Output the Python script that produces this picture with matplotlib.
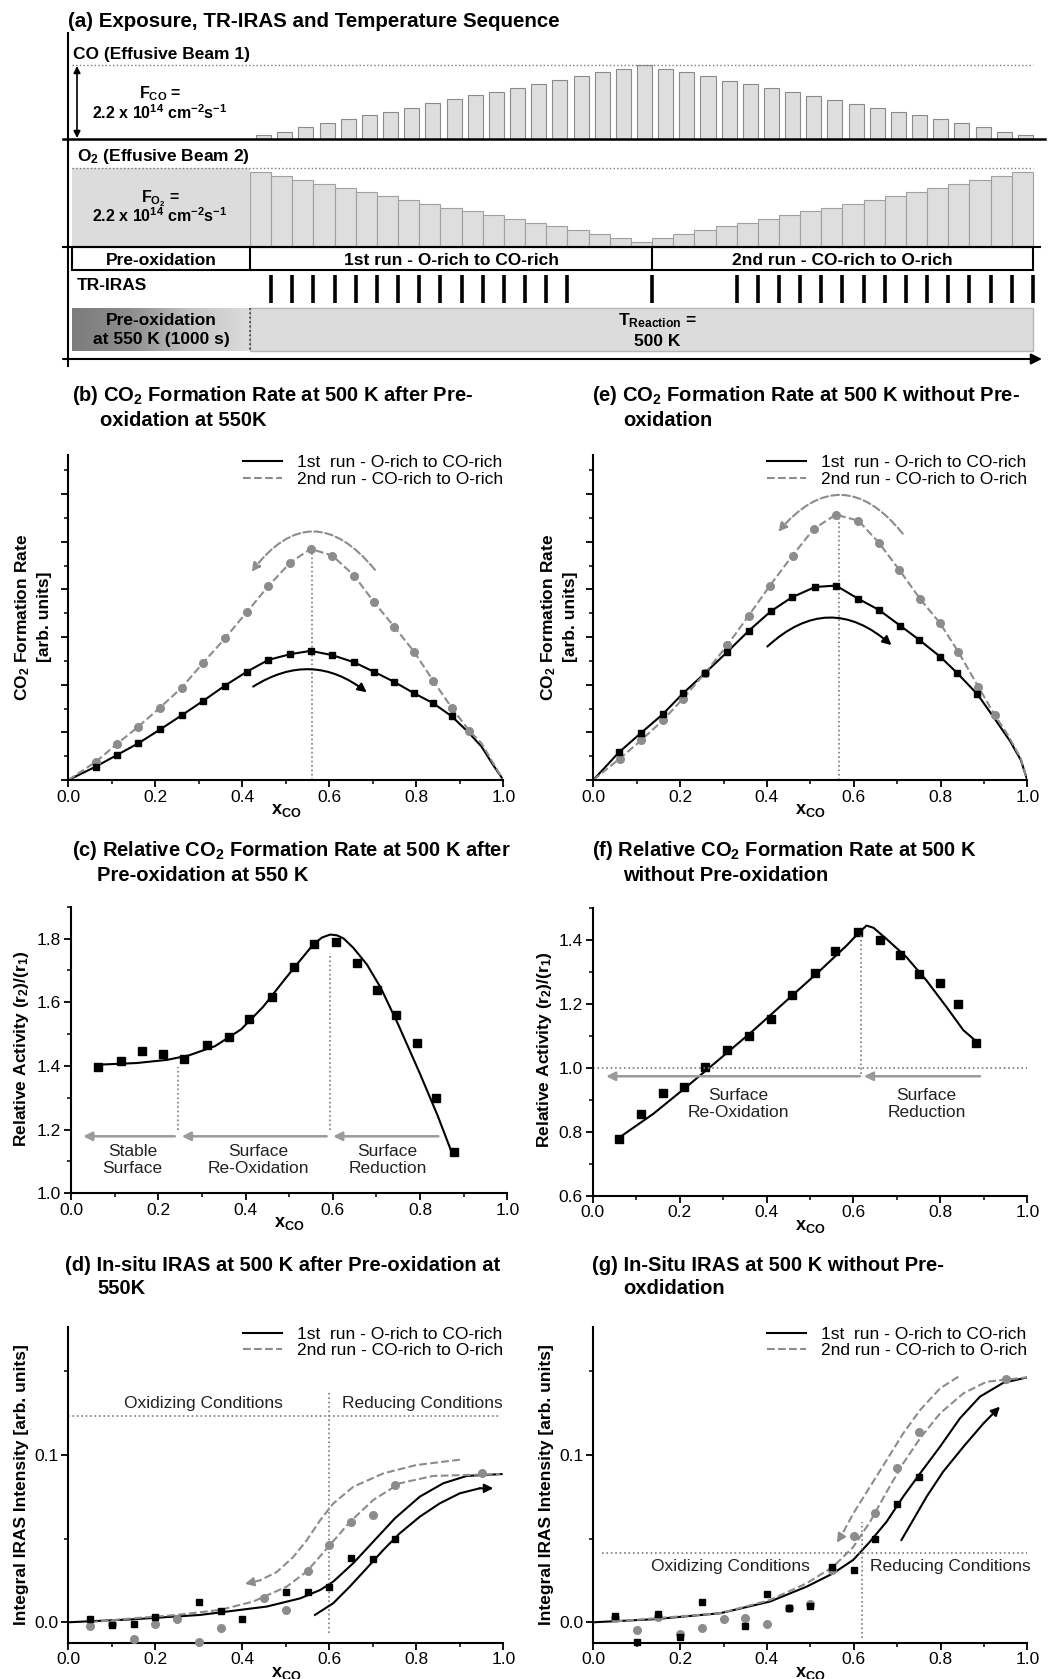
import numpy as np
import matplotlib
matplotlib.use("Agg")
import matplotlib.pyplot as plt
from matplotlib.patches import Rectangle
from matplotlib.colors import LinearSegmentedColormap
from matplotlib.ticker import MultipleLocator, FixedLocator, FormatStrFormatter, NullFormatter

plt.rcParams["font.family"] = ["Liberation Sans", "DejaVu Sans"]
plt.rcParams["mathtext.default"] = "regular"
plt.rcParams["font.size"] = 12.5

# ---------------- (a) exposure sequence: flux as fraction of 2.2e14 cm-2 s-1
co_run1 = [0.05, 0.10, 0.16, 0.21, 0.27, 0.32, 0.37, 0.42, 0.48, 0.54, 0.59, 0.64, 0.69, 0.74, 0.80, 0.85, 0.91, 0.95, 1.00]
co_run2 = [0.95, 0.91, 0.85, 0.79, 0.74, 0.69, 0.64, 0.58, 0.53, 0.47, 0.42, 0.36, 0.32, 0.27, 0.21, 0.16, 0.10, 0.05]
o2_run1 = [0.95, 0.90, 0.85, 0.80, 0.75, 0.70, 0.65, 0.60, 0.55, 0.50, 0.45, 0.40, 0.35, 0.31, 0.26, 0.21, 0.16, 0.11, 0.06]
o2_run2 = [0.11, 0.16, 0.21, 0.26, 0.31, 0.35, 0.40, 0.45, 0.50, 0.55, 0.60, 0.65, 0.70, 0.75, 0.80, 0.85, 0.90, 0.95]
o2_preox = 1.0
iras_slots = list(range(1, 16)) + [19] + list(range(23, 38))

# ---------------- (b) CO2 rate after pre-oxidation (arb. units)
b_x1 = [0.063, 0.111, 0.161, 0.211, 0.261, 0.310, 0.360, 0.410, 0.460, 0.510, 0.557, 0.607, 0.657, 0.703, 0.749, 0.795, 0.839, 0.881]
b_run1 = [0.28, 0.52, 0.77, 1.06, 1.36, 1.66, 1.98, 2.27, 2.52, 2.64, 2.71, 2.62, 2.47, 2.27, 2.06, 1.82, 1.61, 1.34]
b_x2 = [0.063, 0.111, 0.161, 0.211, 0.261, 0.310, 0.360, 0.410, 0.460, 0.510, 0.557, 0.607, 0.657, 0.703, 0.749, 0.795, 0.839, 0.881, 0.922]
b_run2 = [0.38, 0.75, 1.12, 1.52, 1.94, 2.46, 2.97, 3.52, 4.07, 4.56, 4.85, 4.71, 4.29, 3.73, 3.22, 2.69, 2.08, 1.52, 1.03]
b_fit1_x = [0.0] + b_x1 + [0.92, 0.95, 0.977, 1.0]
b_fit1_y = [0.0] + b_run1 + [1.00, 0.70, 0.31, 0.0]
b_fit2_x = [0.0] + b_x2 + [0.95, 0.977, 1.0]
b_fit2_y = [0.0] + b_run2 + [0.77, 0.35, 0.0]

# ---------------- (e) CO2 rate without pre-oxidation
e_x1 = [0.059, 0.109, 0.160, 0.207, 0.257, 0.309, 0.358, 0.409, 0.457, 0.511, 0.559, 0.611, 0.658, 0.707, 0.751, 0.799, 0.839, 0.885]
e_run1 = [0.58, 0.98, 1.38, 1.82, 2.24, 2.69, 3.13, 3.54, 3.83, 4.05, 4.08, 3.80, 3.57, 3.24, 2.94, 2.59, 2.24, 1.80]
e_x2 = [0.061, 0.111, 0.161, 0.207, 0.257, 0.309, 0.358, 0.407, 0.459, 0.508, 0.559, 0.611, 0.658, 0.705, 0.753, 0.799, 0.841, 0.887, 0.925]
e_run2 = [0.45, 0.84, 1.26, 1.71, 2.24, 2.83, 3.45, 4.08, 4.71, 5.27, 5.57, 5.44, 4.98, 4.41, 3.80, 3.29, 2.69, 1.96, 1.36]
e_fit1_x = [0.0] + e_x1 + [0.92, 0.96, 0.985, 1.0]
e_fit1_y = [0.0] + e_run1 + [1.35, 0.82, 0.42, 0.0]
e_fit2_x = [0.0] + e_x2 + [0.955, 0.985, 1.0]
e_fit2_y = [0.0] + e_run2 + [0.95, 0.45, 0.0]

# ---------------- (c) relative activity after pre-oxidation
c_x = [0.063, 0.114, 0.162, 0.212, 0.260, 0.311, 0.361, 0.409, 0.460, 0.510, 0.557, 0.607, 0.656, 0.702, 0.746, 0.792, 0.836, 0.878]
c_ratio = [1.396, 1.417, 1.446, 1.438, 1.421, 1.467, 1.490, 1.547, 1.617, 1.711, 1.783, 1.790, 1.724, 1.638, 1.559, 1.472, 1.299, 1.130]
c_fit_x = [0.063, 0.15, 0.22, 0.27, 0.33, 0.39, 0.44, 0.49, 0.525, 0.555, 0.575, 0.594, 0.61, 0.625, 0.647, 0.678, 0.71, 0.75, 0.80, 0.84, 0.875]
c_fit_y = [1.404, 1.409, 1.419, 1.433, 1.462, 1.515, 1.585, 1.672, 1.731, 1.781, 1.803, 1.8125, 1.810, 1.800, 1.771, 1.719, 1.645, 1.530, 1.375, 1.245, 1.120]

# ---------------- (f) relative activity without pre-oxidation
f_x = [0.061, 0.112, 0.161, 0.209, 0.259, 0.310, 0.359, 0.410, 0.458, 0.511, 0.558, 0.610, 0.660, 0.707, 0.751, 0.799, 0.840, 0.883]
f_ratio = [0.779, 0.855, 0.922, 0.941, 1.003, 1.055, 1.099, 1.152, 1.230, 1.297, 1.365, 1.425, 1.401, 1.353, 1.295, 1.266, 1.199, 1.078]
f_fit_x = [0.061, 0.14, 0.216, 0.293, 0.37, 0.446, 0.523, 0.584, 0.61, 0.63, 0.646, 0.676, 0.722, 0.768, 0.814, 0.853, 0.882]
f_fit_y = [0.782, 0.857, 0.941, 1.029, 1.118, 1.211, 1.305, 1.383, 1.420, 1.446, 1.439, 1.404, 1.347, 1.274, 1.191, 1.118, 1.084]

# ---------------- (d) IRAS intensity after pre-oxidation
d_x1 = [0.05, 0.10, 0.15, 0.20, 0.30, 0.35, 0.40, 0.50, 0.55, 0.60, 0.65, 0.70, 0.75]
d_run1 = [0.0018, -0.0016, -0.0010, 0.0030, 0.0124, 0.0068, 0.0018, 0.0179, 0.0179, 0.0209, 0.0382, 0.0376, 0.0498]
d_x2 = [0.05, 0.10, 0.15, 0.20, 0.25, 0.30, 0.35, 0.45, 0.50, 0.55, 0.60, 0.65, 0.70, 0.75, 0.95]
d_run2 = [-0.0020, -0.0010, -0.0100, -0.0010, 0.0020, -0.0120, -0.0036, 0.0143, 0.0074, 0.0307, 0.0462, 0.0602, 0.0641, 0.0821, 0.0890]
d_fit1_x = [0.0, 0.149, 0.303, 0.456, 0.533, 0.579, 0.609, 0.655, 0.701, 0.751, 0.808, 0.862, 0.916, 0.996]
d_fit1_y = [0.0, 0.0018, 0.0044, 0.0094, 0.0143, 0.0193, 0.0243, 0.0353, 0.0482, 0.0622, 0.0751, 0.0831, 0.0875, 0.0886]
d_fit2_x = [0.05, 0.149, 0.249, 0.349, 0.425, 0.502, 0.548, 0.6015, 0.648, 0.701, 0.762, 0.839, 0.992]
d_fit2_y = [0.0, 0.0024, 0.0044, 0.0074, 0.0124, 0.0213, 0.0303, 0.0462, 0.0602, 0.0731, 0.0831, 0.0875, 0.0886]
d_arr2_x = [0.900, 0.80, 0.724, 0.655, 0.609, 0.579, 0.548, 0.517, 0.479, 0.44, 0.406]
d_arr2_y = [0.0972, 0.094, 0.089, 0.081, 0.071, 0.061, 0.049, 0.039, 0.030, 0.025, 0.023]
d_arr1_x = [0.567, 0.609, 0.647, 0.686, 0.724, 0.762, 0.808, 0.854, 0.900, 0.946, 0.977]
d_arr1_y = [0.0044, 0.0114, 0.0213, 0.0323, 0.0432, 0.0532, 0.0631, 0.0711, 0.0771, 0.0801, 0.0801]

# ---------------- (g) IRAS intensity without pre-oxidation
g_x1 = [0.05, 0.10, 0.15, 0.20, 0.25, 0.35, 0.40, 0.45, 0.50, 0.55, 0.60, 0.65, 0.70, 0.75]
g_run1 = [0.0038, -0.0120, 0.0048, -0.0086, 0.0124, -0.0020, 0.0167, 0.0084, 0.0100, 0.0329, 0.0313, 0.0496, 0.0705, 0.0867]
g_x2 = [0.05, 0.10, 0.15, 0.20, 0.25, 0.30, 0.35, 0.40, 0.45, 0.50, 0.55, 0.60, 0.65, 0.70, 0.75, 0.95]
g_run2 = [0.0024, -0.0046, 0.0030, -0.0072, -0.0036, 0.0020, 0.0024, -0.0012, 0.0088, 0.0108, 0.0313, 0.0518, 0.0655, 0.0920, 0.1135, 0.1452]
g_fit1_x = [0.0, 0.138, 0.292, 0.407, 0.4915, 0.553, 0.599, 0.6375, 0.676, 0.714, 0.753, 0.799, 0.845, 0.891, 0.945, 1.0]
g_fit1_y = [0.0, 0.0018, 0.0054, 0.0124, 0.0213, 0.0293, 0.0373, 0.0482, 0.0602, 0.0751, 0.0890, 0.1050, 0.1220, 0.1349, 0.1432, 0.1464]
g_fit2_x = [0.05, 0.292, 0.407, 0.4915, 0.553, 0.599, 0.6375, 0.676, 0.714, 0.753, 0.799, 0.853, 0.906, 1.0]
g_fit2_y = [0.0005, 0.0054, 0.0133, 0.0233, 0.0333, 0.0450, 0.0600, 0.0780, 0.0950, 0.1100, 0.1249, 0.1369, 0.1438, 0.1464]
g_arr2_x = [0.841, 0.799, 0.753, 0.714, 0.676, 0.6375, 0.599, 0.572, 0.561]
g_arr2_y = [0.1468, 0.1398, 0.1269, 0.1129, 0.0970, 0.0810, 0.0650, 0.0520, 0.0476]
g_arr1_x = [0.710, 0.737, 0.768, 0.806, 0.853, 0.899, 0.937]
g_arr1_y = [0.0492, 0.0612, 0.0751, 0.0900, 0.1050, 0.1189, 0.1289]

LAB1 = "1st  run - O-rich to CO-rich"
LAB2 = "2nd run - CO-rich to O-rich"
GRAY = "#8c8c8c"
DOT = "#7a7a7a"
FS = 12.5

W, H = 1051, 1679
fig = plt.figure(figsize=(W / 100, H / 100), dpi=100)


def px_axes(l, t, r, b):
    return fig.add_axes([l / W, 1 - b / H, (r - l) / W, (b - t) / H])


def ftext(x, y, s, **kw):
    fig.text(x / W, 1 - y / H, s, **kw)


# ======================= panel (a) in pixel-like coordinates
ax = fig.add_axes([0, 1 - 372 / H, 1, 372 / H])
X0, SLOT = 250, 21.16
CO_BASE, CO_FULL = 139, 74
O2_BASE, O2_FULL = 247, 79
co = np.array(co_run1 + co_run2)
o2 = np.array(o2_run1 + o2_run2)
left = X0 + np.arange(len(co)) * SLOT
X_END = X0 + len(co) * SLOT
X_RUN = X0 + len(co_run1) * SLOT

ax.bar(left + 0.29 * SLOT, -CO_FULL * co, width=0.71 * SLOT, bottom=CO_BASE, align="edge",
       color="#dedede", edgecolor="#8a8a8a", lw=0.8)
ax.bar(left, -O2_FULL * o2, width=SLOT, bottom=O2_BASE, align="edge",
       color="#dedede", edgecolor="#a0a0a0", lw=0.8)
ax.bar(72, -O2_FULL * o2_preox, width=X0 - 72, bottom=O2_BASE, align="edge",
       color="#dcdcdc", edgecolor="none")
ax.plot([72, X_END], [CO_BASE - CO_FULL] * 2, ls=":", color=DOT, lw=1)
ax.plot([72, X_END], [O2_BASE - O2_FULL] * 2, ls=":", color=DOT, lw=1)

# frame lines
ax.plot([68, 68], [33, 366], color="k", lw=1.5)
ax.plot([63, 1045], [CO_BASE, CO_BASE], color="k", lw=1.8)
ax.plot([63, 1040], [O2_BASE, O2_BASE], color="k", lw=1.5)
ax.annotate("", xy=(1042, 359), xytext=(63, 359),
            arrowprops=dict(arrowstyle="-|>", color="k", lw=1.5, mutation_scale=16, shrinkA=0, shrinkB=0))
ax.annotate("", xy=(77, 66), xytext=(77, 138),
            arrowprops=dict(arrowstyle="<|-|>", color="k", lw=1.2, mutation_scale=10, shrinkA=0, shrinkB=0))

# run boxes
ax.add_patch(Rectangle((72, 247), X_END - 72, 23, fill=False, ec="k", lw=1.5))
ax.plot([X0, X0], [247, 270], color="k", lw=1.5)
ax.plot([X_RUN, X_RUN], [247, 270], color="k", lw=1.5)

# TR-IRAS acquisition marks
ax.vlines(X0 + np.array(iras_slots) * SLOT, 275, 303, color="k", lw=2.6)

# temperature bar
ax.add_patch(Rectangle((X0, 308), X_END - X0, 43, fc="#dcdcdc", ec="#b5b5b5", lw=1))
tcmap = LinearSegmentedColormap.from_list("t", ["#7c7c7c", "#8e8e8e", "#c4c4c4", "#dcdcdc"])
ax.imshow(np.linspace(0, 1, 200)[None, :], cmap=tcmap, extent=(72, X0, 351, 308), aspect="auto")
ax.plot([X0, X0], [308, 351], ls=":", color="#333333", lw=1.2)

ax.set_xlim(0, W)
ax.set_ylim(372, 0)
ax.axis("off")

bold = dict(fontweight="bold", va="baseline")
ax.text(68, 27, "(a) Exposure, TR-IRAS and Temperature Sequence", fontsize=14.8, ha="left", **bold)
ax.text(73, 59, "CO (Effusive Beam 1)", fontsize=FS, ha="left", **bold)
ax.text(160, 98, "F$_{CO}$ =", fontsize=11.5, ha="center", **bold)
ax.text(160, 119, "2.2 x 10$^{14}$ cm$^{-2}$s$^{-1}$", fontsize=11.5, ha="center", **bold)
ax.text(77, 161, "O$_2$ (Effusive Beam 2)", fontsize=FS, ha="left", **bold)
ax.text(160, 202, "F$_{O_2}$ =", fontsize=11.5, ha="center", **bold)
ax.text(160, 222, "2.2 x 10$^{14}$ cm$^{-2}$s$^{-1}$", fontsize=11.5, ha="center", **bold)
ax.text(161, 265, "Pre-oxidation", fontsize=FS, ha="center", **bold)
ax.text((X0 + X_RUN) / 2, 265, "1st run - O-rich to CO-rich", fontsize=FS, ha="center", **bold)
ax.text((X_RUN + X_END) / 2, 265, "2nd run - CO-rich to O-rich", fontsize=FS, ha="center", **bold)
ax.text(77, 290, "TR-IRAS", fontsize=FS, ha="left", **bold)
ax.text(161, 325, "Pre-oxidation", fontsize=FS, ha="center", **bold)
ax.text(161, 344, "at 550 K (1000 s)", fontsize=FS, ha="center", **bold)
ax.text(X_RUN + 5, 325, "T$_{Reaction}$ =", fontsize=FS, ha="center", **bold)
ax.text(X_RUN + 5, 346, "500 K", fontsize=FS, ha="center", **bold)


# ======================= xy panels
def style(ax, ylim, ymaj, ymin, fmt=None):
    ax.set_xlim(0, 1.0)
    ax.set_ylim(*ylim)
    for s in ("top", "right"):
        ax.spines[s].set_visible(False)
    for s in ("left", "bottom"):
        ax.spines[s].set_linewidth(1.5)
    ax.xaxis.set_major_locator(MultipleLocator(0.2))
    ax.xaxis.set_minor_locator(MultipleLocator(0.1))
    ax.xaxis.set_major_formatter(FormatStrFormatter("%.1f"))
    ax.yaxis.set_major_locator(FixedLocator(ymaj))
    ax.yaxis.set_minor_locator(FixedLocator(ymin))
    if fmt is None:
        ax.yaxis.set_major_formatter(NullFormatter())
    else:
        ax.yaxis.set_major_formatter(FormatStrFormatter(fmt))
    ax.tick_params(which="major", direction="out", length=5, width=1.3, labelsize=FS, pad=2)
    ax.tick_params(which="minor", direction="out", length=3, width=1.1)
    ax.set_xlabel("x$_{CO}$", fontsize=13, fontweight="bold", labelpad=-2)


def runs(ax, fx1, fy1, fx2, fy2, mx1, my1, mx2, my2):
    ax.plot(fx1, fy1, color="k", lw=1.5, label=LAB1)
    ax.plot(fx2, fy2, color=GRAY, lw=1.5, ls="--", label=LAB2)
    ax.plot(mx2, my2, "o", color=GRAY, ms=5.5, clip_on=False, zorder=3)
    ax.plot(mx1, my1, "s", color="k", ms=5, clip_on=False, zorder=4)
    ax.legend(loc="upper right", bbox_to_anchor=(1.0, 1.0), frameon=False, fontsize=FS,
              handlelength=2.2, handletextpad=0.9, labelspacing=0.08, borderaxespad=0, borderpad=0)


def arc(ax, start, end, rad, color, ls="-"):
    ax.annotate("", xy=end, xytext=start,
                arrowprops=dict(arrowstyle="-|>", color=color, lw=1.5, ls=ls, mutation_scale=13,
                                shrinkA=0, shrinkB=0, connectionstyle=f"arc3,rad={rad}"))


def path_arrow(ax, xs, ys, color, ls="-"):
    ax.plot(xs[:-1], ys[:-1], color=color, lw=1.5, ls=ls)
    ax.annotate("", xy=(xs[-1], ys[-1]), xytext=(xs[-2], ys[-2]),
                arrowprops=dict(arrowstyle="-|>", color=color, lw=1.5, mutation_scale=13,
                                shrinkA=0, shrinkB=0))


def hint(ax, x0, x1, y):
    ax.annotate("", xy=(x1, y), xytext=(x0, y),
                arrowprops=dict(arrowstyle="-|>", color="#9a9a9a", lw=1.8, mutation_scale=13,
                                shrinkA=0, shrinkB=0))


TB = dict(fontsize=14.5, fontweight="bold", ha="left", va="baseline")
YL = dict(fontsize=FS, fontweight="bold", rotation=90, ha="center", va="center",
          multialignment="center", linespacing=1.4)
NOTE = dict(ha="center", va="center", fontsize=FS, color="#222222")

# (b)
ax = px_axes(68.3, 455, 503.3, 780)
style(ax, (0, 6.82), range(0, 7), np.arange(0.5, 7, 1.0))
runs(ax, b_fit1_x, b_fit1_y, b_fit2_x, b_fit2_y, b_x1, b_run1, b_x2, b_run2)
ax.plot([0.56, 0.56], [0, 4.86], ls=":", color=DOT, lw=1.2)
arc(ax, (0.705, 4.41), (0.421, 4.37), 0.63, GRAY, "--")
arc(ax, (0.425, 1.96), (0.686, 1.84), -0.35, "k")
ftext(72, 401, "(b) CO$_2$ Formation Rate at 500 K after Pre-", **TB)
ftext(100, 426, "oxidation at 550K", **TB)
ftext(32.5, 617, "CO$_2$ Formation Rate\n[arb. units]", **YL)

# (e)
ax = px_axes(593.3, 455, 1027.3, 780)
style(ax, (0, 6.82), range(0, 7), np.arange(0.5, 7, 1.0))
runs(ax, e_fit1_x, e_fit1_y, e_fit2_x, e_fit2_y, e_x1, e_run1, e_x2, e_run2)
ax.plot([0.565, 0.565], [0, 5.57], ls=":", color=DOT, lw=1.2)
arc(ax, (0.713, 5.17), (0.426, 5.21), 0.6, GRAY, "--")
arc(ax, (0.401, 2.80), (0.687, 2.83), -0.45, "k")
ftext(592, 401, "(e) CO$_2$ Formation Rate at 500 K without Pre-", **TB)
ftext(623, 426, "oxidation", **TB)
ftext(559, 617, "CO$_2$ Formation Rate\n[arb. units]", **YL)

# (c)
ax = px_axes(71, 906.7, 507.3, 1193.3)
style(ax, (1.0, 1.9), [1.0, 1.2, 1.4, 1.6, 1.8], [1.1, 1.3, 1.5, 1.7, 1.9], "%.1f")
ax.plot(c_fit_x, c_fit_y, color="k", lw=1.5)
ax.plot(c_x, c_ratio, "s", color="k", ms=5.5, clip_on=False)
ax.plot([0.246, 0.246], [1.198, 1.396], ls=":", color=DOT, lw=1.2)
ax.plot([0.594, 0.594], [1.20, 1.755], ls=":", color=DOT, lw=1.2)
hint(ax, 0.238, 0.028, 1.179)
hint(ax, 0.586, 0.254, 1.179)
hint(ax, 0.842, 0.601, 1.179)
for xx, s in [(0.141, "Stable\nSurface"), (0.429, "Surface\nRe-Oxidation"), (0.725, "Surface\nReduction")]:
    ax.text(xx, 1.105, s, linespacing=1.15, **NOTE)
ftext(72, 856, "(c) Relative CO$_2$ Formation Rate at 500 K after", **TB)
ftext(97, 881, "Pre-oxidation at 550 K", **TB)
ftext(21.7, 1049, "Relative Activity (r$_2$)/(r$_1$)", **YL)

# (f)
ax = px_axes(592.7, 908.3, 1027.3, 1195.7)
style(ax, (0.6, 1.5), [0.6, 0.8, 1.0, 1.2, 1.4], [0.7, 0.9, 1.1, 1.3, 1.5], "%.1f")
ax.plot(f_fit_x, f_fit_y, color="k", lw=1.5)
ax.plot(f_x, f_ratio, "s", color="k", ms=5.5, clip_on=False)
ax.plot([0, 1.0], [1.0, 1.0], ls=":", color=DOT, lw=1.2)
ax.plot([0.617, 0.617], [0.98, 1.415], ls=":", color=DOT, lw=1.2)
hint(ax, 0.615, 0.031, 0.974)
hint(ax, 0.891, 0.624, 0.974)
for xx, s in [(0.335, "Surface\nRe-Oxidation"), (0.768, "Surface\nReduction")]:
    ax.text(xx, 0.887, s, linespacing=1.15, **NOTE)
ftext(592, 856, "(f) Relative CO$_2$ Formation Rate at 500 K", **TB)
ftext(623, 881, "without Pre-oxidation", **TB)
ftext(545, 1050, "Relative Activity (r$_2$)/(r$_1$)", **YL)

# (d)
ax = px_axes(68.3, 1326.7, 503.3, 1642.7)
style(ax, (-0.0122, 0.1767), [0.0, 0.1], [0.05, 0.15], "%.1f")
runs(ax, d_fit1_x, d_fit1_y, d_fit2_x, d_fit2_y, d_x1, d_run1, d_x2, d_run2)
ax.plot([0.0, 0.995], [0.1233, 0.1233], ls=":", color=DOT, lw=1.2)
ax.plot([0.6, 0.6], [-0.0066, 0.1378], ls=":", color=DOT, lw=1.2)
path_arrow(ax, d_arr2_x, d_arr2_y, GRAY, "--")
path_arrow(ax, d_arr1_x, d_arr1_y, "k")
ax.text(0.31, 0.1309, "Oxidizing Conditions", **NOTE)
ax.text(0.815, 0.1309, "Reducing Conditions", **NOTE)
ftext(65, 1271, "(d) In-situ IRAS at 500 K after Pre-oxidation at", **TB)
ftext(97, 1294, "550K", **TB)
ftext(21.7, 1485, "Integral IRAS Intensity [arb. units]", **YL)

# (g)
ax = px_axes(593.3, 1326.7, 1027.3, 1642.7)
style(ax, (-0.0122, 0.1767), [0.0, 0.1], [0.05, 0.15], "%.1f")
runs(ax, g_fit1_x, g_fit1_y, g_fit2_x, g_fit2_y, g_x1, g_run1, g_x2, g_run2)
ax.plot([0.019, 1.0], [0.0416, 0.0416], ls=":", color=DOT, lw=1.2)
ax.plot([0.618, 0.618], [-0.0096, 0.060], ls=":", color=DOT, lw=1.2)
path_arrow(ax, g_arr2_x, g_arr2_y, GRAY, "--")
path_arrow(ax, g_arr1_x, g_arr1_y, "k")
ax.text(0.317, 0.0333, "Oxidizing Conditions", **NOTE)
ax.text(0.822, 0.0333, "Reducing Conditions", **NOTE)
ftext(592, 1271, "(g) In-Situ IRAS at 500 K without Pre-", **TB)
ftext(623, 1294, "oxdidation", **TB)
ftext(546.7, 1485, "Integral IRAS Intensity [arb. units]", **YL)

fig.savefig("out.png", dpi=100)
